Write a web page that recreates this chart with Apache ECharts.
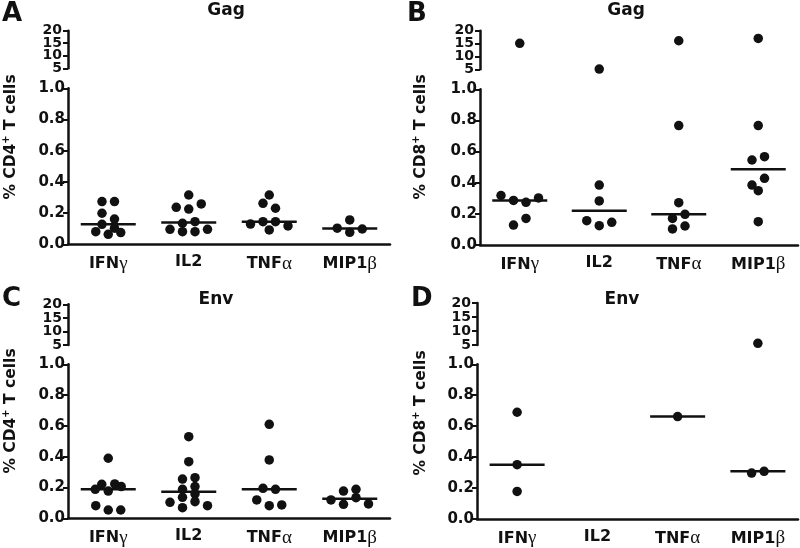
<!DOCTYPE html>
<html>
<head>
<meta charset="utf-8">
<script src="https://cdn.jsdelivr.net/npm/echarts@6/dist/echarts.min.js"></script>
<style>
html,body{margin:0;padding:0;background:#fff;}
#chart{width:800px;height:548px;}
</style>
</head>
<body>
<div id="chart"></div>
<script>
// ---------- data ----------
const categories = ['IFNγ', 'IL2', 'TNFα', 'MIP1β'];
const panelLetters = ['A', 'B', 'C', 'D'];
const panelTitles = ['Gag', 'Gag', 'Env', 'Env'];
const cellTypes = ['CD4', 'CD8', 'CD4', 'CD8'];

// lower segment axis (0 - 1.0) and upper segment axis (5 - 20)
const lowerMin = 0, lowerMax = 1, lowerStep = 0.2;
const upperMin = 5, upperMax = 20;
const upperTickLabels = ['5', '10', '15', '20'];
const breakAt = 1;

// Panel A: Gag, CD4+
const aIFNg = [0.274, 0.274, 0.199, 0.162, 0.128, 0.103, 0.081, 0.064, 0.075];
const aIL2 = [0.316, 0.237, 0.226, 0.259, 0.135, 0.145, 0.096, 0.081, 0.081, 0.096];
const aTNFa = [0.316, 0.263, 0.231, 0.130, 0.145, 0.145, 0.118, 0.092];
const aMIP1b = [0.156, 0.103, 0.077, 0.098];
// Panel B: Gag, CD8+
const bIFNg = [15.1, 0.318, 0.286, 0.274, 0.302, 0.128, 0.171];
const bIL2 = [5.1, 0.385, 0.283, 0.156, 0.124, 0.146];
const bTNFa = [16.1, 0.767, 0.272, 0.171, 0.197, 0.103, 0.122];
const bMIP1b = [17.0, 0.767, 0.546, 0.567, 0.385, 0.428, 0.349, 0.150];
// Panel C: Env, CD4+
const cIFNg = [0.390, 0.188, 0.221, 0.177, 0.223, 0.206, 0.082, 0.054, 0.054];
const cIL2 = [0.530, 0.368, 0.255, 0.264, 0.188, 0.206, 0.136, 0.158, 0.104, 0.069, 0.108, 0.082];
const cTNFa = [0.610, 0.379, 0.195, 0.188, 0.119, 0.082, 0.087];
const cMIP1b = [0.177, 0.188, 0.119, 0.091, 0.134, 0.093];
// Panel D: Env, CD8+
const dIFNg = [0.690, 0.351, 0.178];
const dIL2 = [];
const dTNFa = [0.662];
const dMIP1b = [5.6, 0.297, 0.308];

// ---------- layout ----------
const panels = [
  {groups: [aIFNg, aIL2, aTNFa, aMIP1b], left: 68, width: 322, upTop: 30.7, upH: 37.6, lowTop: 88.3, lowH: 156,
   letterX: 2, letterY: 14, titleX: 226, titleY: 11, ylabX: 11, ylabY: 137},
  {groups: [bIFNg, bIL2, bTNFa, bMIP1b], left: 480, width: 318, upTop: 30.7, upH: 38.6, lowTop: 89.3, lowH: 155.7,
   letterX: 407, letterY: 14, titleX: 626, titleY: 11, ylabX: 421, ylabY: 137},
  {groups: [cIFNg, cIL2, cTNFa, cMIP1b], left: 68, width: 322, upTop: 304.3, upH: 40.7, lowTop: 364.3, lowH: 154,
   letterX: 2, letterY: 299, titleX: 216, titleY: 300, ylabX: 11, ylabY: 411},
  {groups: [dIFNg, dIL2, dTNFa, dMIP1b], left: 477, width: 321, upTop: 303, upH: 42, lowTop: 364.3, lowH: 155,
   letterX: 411, letterY: 299, titleX: 622, titleY: 300, ylabX: 421, ylabY: 413}
];

const INK = '#111';
const FONT = 'DejaVu Sans';
const DOT = 9.5;

function median(arr) {
  const s = arr.slice().sort((a, b) => a - b);
  const n = s.length;
  if (!n) return null;
  return n % 2 ? s[(n - 1) / 2] : (s[n / 2 - 1] + s[n / 2]) / 2;
}

// Prism-like row spreading of dots with similar values
function swarm(values, pxPerUnit) {
  const offsets = values.map(() => 0);
  const idx = values.map((v, i) => i).filter(i => values[i] <= breakAt);
  idx.sort((a, b) => values[b] - values[a]);
  let row = [], start = null;
  const flush = () => {
    row.sort((a, b) => a - b);
    const n = row.length;
    const sp = n > 4 ? 6.5 : 12.5;
    row.forEach((i, k) => { offsets[i] = (k - (n - 1) / 2) * sp; });
  };
  idx.forEach(i => {
    const y = values[i] * pxPerUnit;
    if (start === null || start - y > 7.2) {
      if (row.length) flush();
      row = [i]; start = y;
    } else row.push(i);
  });
  if (row.length) flush();
  return offsets;
}

const grid = [], xAxis = [], yAxis = [], series = [], graphic = [];

const catLabelRich = {
  l: {fontFamily: FONT, fontWeight: 'bold', fontSize: 16, color: INK},
  g: {fontFamily: 'Liberation Serif', fontWeight: 'normal', fontSize: 19, color: INK}
};
function catFormatter(v) {
  const last = v.slice(-1);
  if (/[α-ω]/.test(last)) return '{l|' + v.slice(0, -1) + '}{g|' + last + '}';
  return '{l|' + v + '}';
}

panels.forEach((p, pi) => {
  const gUp = grid.length;
  grid.push({left: p.left, width: p.width, top: p.upTop, height: p.upH});
  const gLow = grid.length;
  grid.push({left: p.left, width: p.width, top: p.lowTop, height: p.lowH});

  const xUp = xAxis.length;
  xAxis.push({gridIndex: gUp, type: 'category', data: categories, show: false, boundaryGap: true});
  const xLow = xAxis.length;
  xAxis.push({
    gridIndex: gLow, type: 'category', data: categories, boundaryGap: true,
    axisLine: {lineStyle: {color: INK, width: 2.5}},
    axisTick: {alignWithLabel: true, length: 5, interval: 0, lineStyle: {color: INK, width: 2}},
    axisLabel: {margin: 10, interval: 0, hideOverlap: false, formatter: catFormatter, rich: catLabelRich}
  });

  // upper segment: value scale for the data, evenly spaced tick axis for display
  const yUpVal = yAxis.length;
  yAxis.push({gridIndex: gUp, type: 'value', min: upperMin, max: upperMax, show: false, splitLine: {show: false}});
  const yUpTicks = yAxis.length;
  yAxis.push({
    gridIndex: gUp, type: 'category', data: upperTickLabels, boundaryGap: false, position: 'left',
    axisLine: {show: true, lineStyle: {color: INK, width: 2.5}},
    axisTick: {show: true, length: 5, interval: 0, lineStyle: {color: INK, width: 2}},
    axisLabel: {fontFamily: FONT, fontWeight: 'bold', fontSize: 14, lineHeight: 9, color: INK, margin: 6,
      interval: 0, hideOverlap: false}
  });
  const yLow = yAxis.length;
  yAxis.push({
    gridIndex: gLow, type: 'value', min: lowerMin, max: lowerMax, interval: lowerStep,
    splitLine: {show: false},
    axisLine: {show: true, lineStyle: {color: INK, width: 2.5}},
    axisTick: {show: true, length: 5, lineStyle: {color: INK, width: 2}},
    axisLabel: {fontFamily: FONT, fontWeight: 'bold', fontSize: 15, color: INK, margin: 3,
      hideOverlap: false, showMinLabel: true, showMaxLabel: true,
      formatter: v => v.toFixed(1)}
  });

  const lowDots = [], upDots = [], meds = [];
  p.groups.forEach((vals, ci) => {
    const offs = swarm(vals, p.lowH / (lowerMax - lowerMin));
    vals.forEach((v, i) => {
      const item = {value: [ci, v], symbolOffset: [offs[i], 0]};
      if (v > breakAt) upDots.push(item); else lowDots.push(item);
    });
    const m = median(vals);
    if (m !== null) meds.push([ci, m]);
  });

  const dotStyle = {color: INK, opacity: 1};
  series.push({type: 'scatter', xAxisIndex: xLow, yAxisIndex: yLow, data: lowDots, symbol: 'circle',
    symbolSize: DOT, itemStyle: dotStyle, clip: false, silent: true, z: 3});
  series.push({type: 'scatter', xAxisIndex: xUp, yAxisIndex: yUpVal, data: upDots, symbol: 'circle',
    symbolSize: DOT, itemStyle: dotStyle, clip: false, silent: true, z: 3});
  series.push({type: 'scatter', xAxisIndex: xLow, yAxisIndex: yLow, data: meds, symbol: 'rect',
    symbolSize: [55, 2.5], itemStyle: dotStyle, clip: false, silent: true, z: 2});

  graphic.push({type: 'text', x: p.letterX, y: p.letterY,
    style: {text: panelLetters[pi], font: 'bold 26px "' + FONT + '"', fill: INK, textAlign: 'left', textVerticalAlign: 'middle'}});
  graphic.push({type: 'text', x: p.titleX, y: p.titleY,
    style: {text: panelTitles[pi], font: 'bold 17px "' + FONT + '"', fill: INK, textAlign: 'center', textVerticalAlign: 'middle'}});
  graphic.push({type: 'text', x: p.ylabX, y: p.ylabY, rotation: Math.PI / 2,
    style: {
      text: '{m|% ' + cellTypes[pi] + '}{s|+}{m| T cells}',
      textAlign: 'center', textVerticalAlign: 'middle',
      rich: {
        m: {fontFamily: FONT, fontWeight: 'bold', fontSize: 15.5, lineHeight: 20, fill: INK},
        s: {fontFamily: FONT, fontWeight: 'bold', fontSize: 10, lineHeight: 20, verticalAlign: 'top', fill: INK}
      }
    }});
});

const chart = echarts.init(document.getElementById('chart'), null, {renderer: 'canvas'});
chart.setOption({
  animation: false,
  backgroundColor: '#fff',
  grid, xAxis, yAxis, series, graphic
});
</script>
</body>
</html>
